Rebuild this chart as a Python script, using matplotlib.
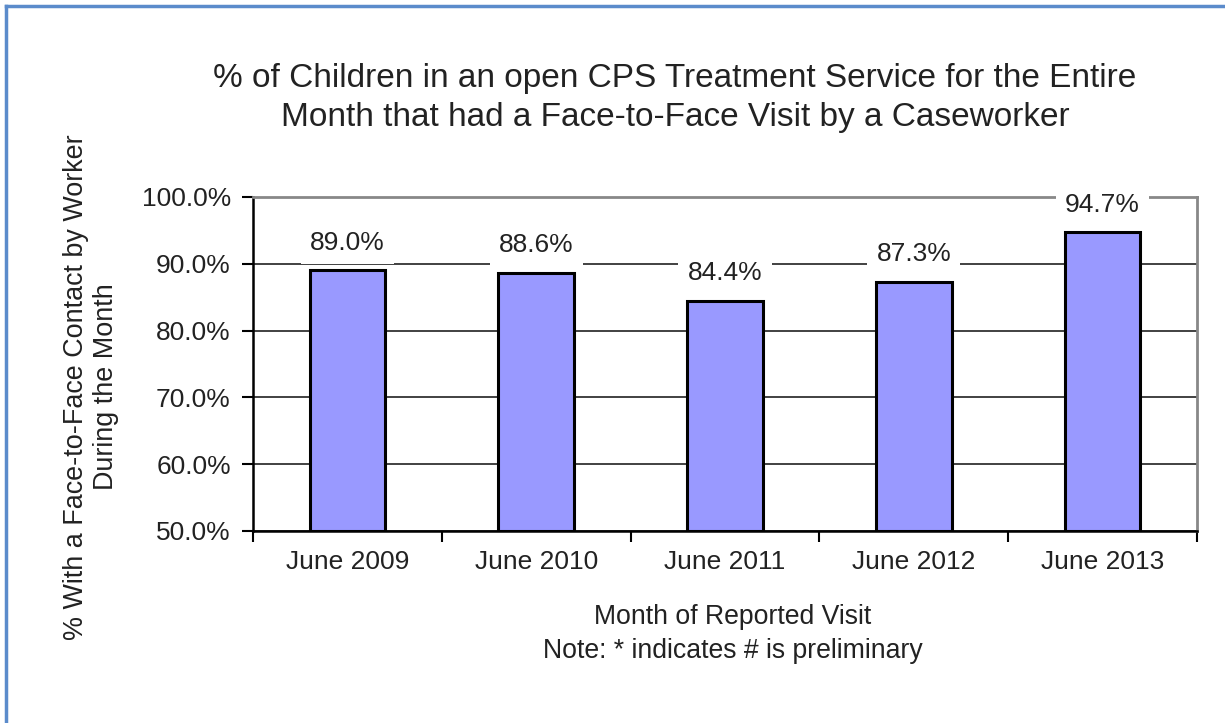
import numpy as np
import matplotlib
matplotlib.use("Agg")
import matplotlib.pyplot as plt
from matplotlib.lines import Line2D

months = ['June 2009', 'June 2010', 'June 2011', 'June 2012', 'June 2013']
pct = [89.0, 88.6, 84.4, 87.3, 94.7]
yticks = [50, 60, 70, 80, 90, 100]

plt.rcParams['font.family'] = ['Liberation Sans', 'DejaVu Sans']

fig = plt.figure(figsize=(12.25, 7.23), dpi=100)
W, H = 1225, 723
ax = fig.add_axes([253 / W, 1 - 531 / H, (1197 - 253) / W, (531 - 197) / H])

x = np.arange(len(months))
ax.bar(x, [v - 50 for v in pct], bottom=50, width=0.4, color='#9999FF',
       edgecolor='black', linewidth=2.2, zorder=3)

for xi, v in zip(x, pct):
    ax.annotate(f'{v:.1f}%', (xi, v), xytext=(0, 20), textcoords='offset points',
                ha='center', va='center', fontsize=19, color='#222222', zorder=4,
                bbox=dict(boxstyle='square,pad=0.35', fc='white', ec='none'))

ax.set_xlim(-0.5, len(months) - 0.5)
ax.set_ylim(50, 100)
ax.set_yticks(yticks)
ax.set_yticklabels([f'{t:.1f}%' for t in yticks], fontsize=19, color='#222222')
ax.yaxis.grid(True, color='#333333', linewidth=1.3, zorder=0)
ax.set_axisbelow(True)

ax.set_xticks(x)
ax.set_xticklabels(months, fontsize=19, color='#222222')
ax.set_xticks(np.arange(-0.5, len(months)), minor=True)
ax.tick_params(axis='x', which='major', length=0, pad=14)
ax.tick_params(axis='x', which='minor', length=8, width=1.5, direction='out')
ax.tick_params(axis='y', length=8, width=1.5, direction='out', pad=8)

for s in ['top', 'right']:
    ax.spines[s].set_color('#888888')
    ax.spines[s].set_linewidth(2)
for s in ['left', 'bottom']:
    ax.spines[s].set_color('black')
    ax.spines[s].set_linewidth(1.8)

fig.text(675 / W, 1 - 98 / H,
         '% of Children in an open CPS Treatment Service for the Entire\n'
         'Month that had a Face-to-Face Visit by a Caseworker',
         ha='center', va='center', fontsize=24, color='#222222', linespacing=1.35)

fig.text(91 / W, 1 - 387 / H,
         '% With a Face-to-Face Contact by Worker\nDuring the Month',
         ha='center', va='center', rotation=90, fontsize=19.4, color='#222222',
         linespacing=1.2)

fig.text(733 / W, 1 - 634 / H,
         'Month of Reported Visit\nNote: * indicates # is preliminary',
         ha='center', va='center', fontsize=19.2, color='#222222', linespacing=1.4)

# blue frame (left and top edges visible)
fig.add_artist(Line2D([6 / W, 6 / W], [0, 1 - 6 / H], color='#5B8BCB', linewidth=2.5))
fig.add_artist(Line2D([6 / W, 1], [1 - 6 / H, 1 - 6 / H], color='#5B8BCB', linewidth=2.5))

fig.savefig('out.png', dpi=100, facecolor='white')
